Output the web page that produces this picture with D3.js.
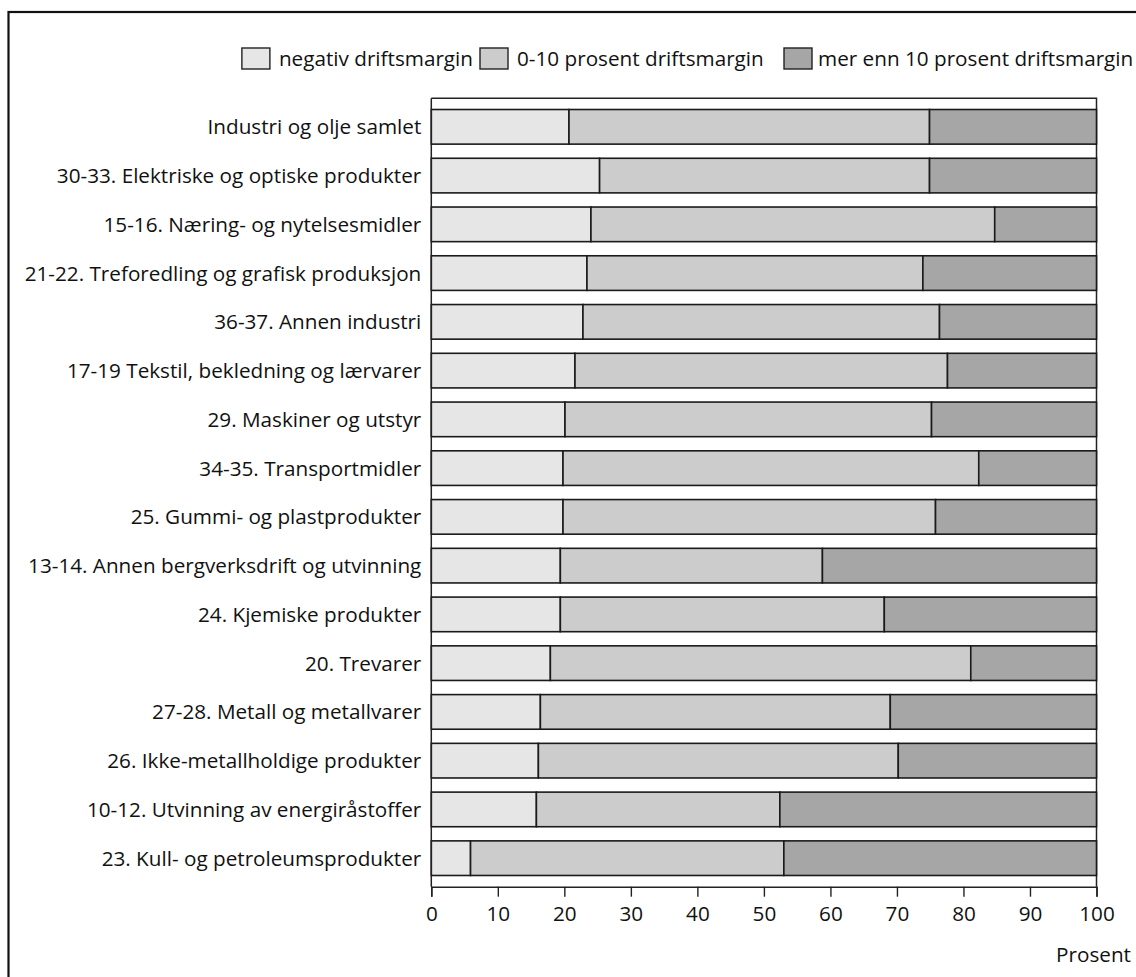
<!DOCTYPE html>
<html><head><meta charset="utf-8">
<script src="https://cdn.jsdelivr.net/npm/d3@7"></script>
<style>body{margin:0;background:#fff}svg{display:block}text{font-family:"Open Sans",sans-serif;fill:#111}</style>
</head><body>
<svg id="c" width="1136" height="977"></svg>
<script>
const categories = [
  "Industri og olje samlet",
  "30-33. Elektriske og optiske produkter",
  "15-16. Næring- og nytelsesmidler",
  "21-22. Treforedling og grafisk produksjon",
  "36-37. Annen industri",
  "17-19 Tekstil, bekledning og lærvarer",
  "29. Maskiner og utstyr",
  "34-35. Transportmidler",
  "25. Gummi- og plastprodukter",
  "13-14. Annen bergverksdrift og utvinning",
  "24. Kjemiske produkter",
  "20. Trevarer",
  "27-28. Metall og metallvarer",
  "26. Ikke-metallholdige produkter",
  "10-12. Utvinning av energiråstoffer",
  "23. Kull- og petroleumsprodukter"
];
// share of firms (percent) in each operating-margin group
const negativ   = [20.7, 25.3, 24.0, 23.4, 22.8, 21.6, 20.1, 19.8, 19.8, 19.4, 19.4, 17.9, 16.4, 16.1, 15.8, 5.9];
const nullTilTi = [54.2, 49.6, 60.7, 50.5, 53.6, 56.0, 55.1, 62.5, 56.0, 39.4, 48.7, 63.2, 52.6, 54.1, 36.6, 47.1];
const overTi    = [25.1, 25.1, 15.3, 26.1, 23.6, 22.4, 24.8, 17.7, 24.2, 41.2, 31.9, 18.9, 31.0, 29.8, 47.6, 47.0];
const seriesNames = ["negativ driftsmargin", "0-10 prosent driftsmargin", "mer enn 10 prosent driftsmargin"];
const seriesColors = ["#e6e6e6", "#cccccc", "#a6a6a6"];
const xTicks = [0,10,20,30,40,50,60,70,80,90,100];
const xTitle = "Prosent";

const FS = "20.7px";
const svg = d3.select("#c");
const pL = 431.3, pR = 1096.5, pT = 98.3, pB = 886.7;

// outer frame (extends beyond the picture on right/bottom)
svg.append("rect").attr("x",8.5).attr("y",12).attr("width",1300).attr("height",1100)
  .attr("fill","none").attr("stroke","#111").attr("stroke-width",2.2);

const x = d3.scaleLinear().domain([0,100]).range([pL,pR]);
const y = d3.scaleBand().domain(categories).range([pT,pB]).paddingInner(0.29).paddingOuter(0.23);

const rows = categories.map((c,i)=>({cat:c, negativ:negativ[i], nullTilTi:nullTilTi[i], overTi:overTi[i]}));
const keys = ["negativ","nullTilTi","overTi"];
const stacked = d3.stack().keys(keys)(rows);

// plot frame (top and right)
svg.append("path").attr("d",`M${pL},${pT}H${pR}V${pB}`).attr("fill","none")
  .attr("stroke","#222").attr("stroke-width",1.5);

const g = svg.append("g");
stacked.forEach((s,k)=>{
  g.selectAll(null).data(s).enter().append("rect")
    .attr("x",d=>x(d[0])).attr("width",d=>x(Math.min(100,d[1]))-x(d[0]))
    .attr("y",d=>y(d.data.cat)).attr("height",y.bandwidth())
    .attr("fill",seriesColors[k]).attr("stroke","#1a1a1a").attr("stroke-width",1.6);
});

// y axis line and labels
svg.append("line").attr("x1",pL).attr("x2",pL).attr("y1",pT).attr("y2",pB)
  .attr("stroke","#222").attr("stroke-width",1.5);
svg.selectAll(null).data(categories).enter().append("text")
  .attr("x",pL-10).attr("y",d=>y(d)+y.bandwidth()/2).attr("dy","0.36em")
  .attr("text-anchor","end").style("font-size",FS).text(d=>d);

// x axis
const xAxis = svg.append("g").attr("transform",`translate(0,${pB})`)
  .call(d3.axisBottom(x).tickValues(xTicks).tickSize(10).tickPadding(10).tickFormat(d3.format("d")));
xAxis.select(".domain").attr("stroke","#222").attr("stroke-width",1.5);
xAxis.selectAll(".tick line").attr("stroke","#222").attr("stroke-width",1.4);
xAxis.selectAll(".tick text").style("font-size",FS).style("font-family","Open Sans").attr("fill","#111");
svg.append("text").attr("x",1131).attr("y",955).attr("dy","0.36em").attr("text-anchor","end")
  .style("font-size",FS).text(xTitle);

// legend
const legText = [[473,"end"],[517,"start"],[818,"start"]];
const legBoxX = [null,480,784];
seriesNames.forEach((n,i)=>{
  const t = svg.append("text").attr("x",legText[i][0]).attr("y",59).attr("dy","0.36em")
    .attr("text-anchor",legText[i][1]).style("font-size",FS).text(n);
  const bx = legBoxX[i] !== null ? legBoxX[i] : legText[i][0] - t.node().getComputedTextLength() - 9 - 28;
  svg.append("rect").attr("x",bx).attr("y",48).attr("width",28).attr("height",21)
    .attr("fill",seriesColors[i]).attr("stroke","#222").attr("stroke-width",1.4);
});
</script>
</body></html>
